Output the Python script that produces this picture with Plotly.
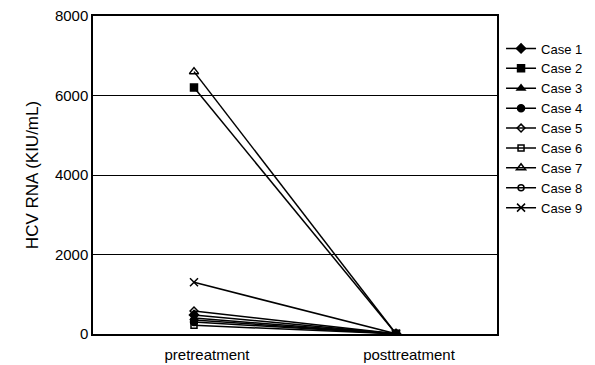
import plotly.graph_objects as go

# Time points on the x axis
timepoints = ["pretreatment", "posttreatment"]

# HCV RNA (KIU/mL) for each case, pre and post treatment
case_names = ["Case 1", "Case 2", "Case 3", "Case 4", "Case 5",
              "Case 6", "Case 7", "Case 8", "Case 9"]
case_1 = [480, 5]
case_2 = [6200, 5]
case_3 = [400, 5]
case_4 = [300, 5]
case_5 = [580, 5]
case_6 = [220, 5]
case_7 = [6600, 5]
case_8 = [350, 5]
case_9 = [1300, 5]
case_values = [case_1, case_2, case_3, case_4, case_5,
               case_6, case_7, case_8, case_9]

y_ticks = [0, 2000, 4000, 6000, 8000]

symbols = ["diamond", "square", "triangle-up", "circle", "diamond-open",
           "square-open", "triangle-up-open", "circle-open", "x-thin-open"]
sizes = [7, 7, 7, 7, 6, 6, 8, 6, 8]

fig = go.Figure()
for name, vals, sym, sz in zip(case_names, case_values, symbols, sizes):
    fig.add_trace(go.Scatter(
        x=timepoints, y=vals, name=name, mode="lines+markers",
        line=dict(color="black", width=1.5),
        marker=dict(symbol=sym, size=sz, color="black",
                    line=dict(color="black", width=1.5)),
    ))

fig.update_layout(
    width=595, height=365,
    margin=dict(l=93, r=98, t=16, b=31, autoexpand=False),
    paper_bgcolor="white", plot_bgcolor="white",
    font=dict(family="Arial, Liberation Sans, sans-serif", color="black", size=14),
    showlegend=True,
    legend=dict(x=1.01, xanchor="left", y=0.945, yanchor="top",
                font=dict(size=13), itemwidth=30, tracegroupgap=0,
                bgcolor="rgba(0,0,0,0)"),
    xaxis=dict(type="category", range=[-0.5, 1.5], showgrid=False,
               showline=True, linecolor="black", linewidth=1.5, mirror=True,
               ticks="", tickfont=dict(size=15), automargin=False,
               ticklabelstandoff=6, ticklabelshift=13),
    yaxis=dict(range=[0, 8000], tickvals=y_ticks, showgrid=True,
               gridcolor="black", gridwidth=1.2, zeroline=False,
               showline=True, linecolor="black", linewidth=1.5, mirror=True,
               ticks="", tickfont=dict(size=15), automargin=False,
               title=dict(text="HCV RNA (KIU/mL)", font=dict(size=17), standoff=12)),
)

fig.write_html("out.html")
